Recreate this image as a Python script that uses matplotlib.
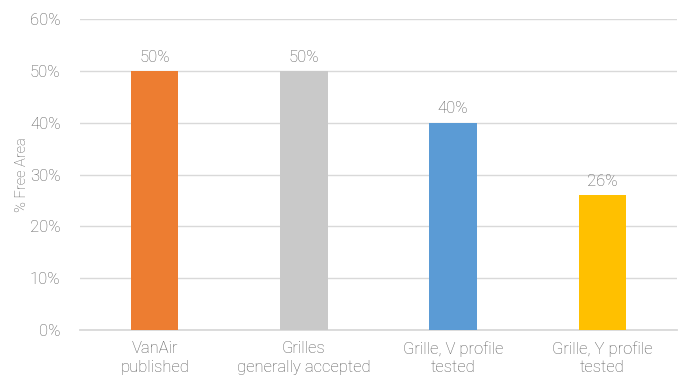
import matplotlib
matplotlib.use("Agg")
import matplotlib.pyplot as plt
from matplotlib.ticker import PercentFormatter

# free area share per grille type
categories = ["VanAir\npublished", "Grilles\ngenerally accepted",
              "Grille, V profile\ntested", "Grille, Y profile\ntested"]
free_area = [50, 50, 40, 26]
colors = ["#ED7D31", "#C9C9C9", "#5B9BD5", "#FFC000"]
yticks = [0, 10, 20, 30, 40, 50, 60]

plt.rcParams["font.family"] = ["Roboto", "DejaVu Sans"]
text_col = "#595959"

fig = plt.figure(figsize=(6.86, 3.84), dpi=100)
ax = fig.add_axes([0.1166, 0.1406, 0.8703, 0.8099])

x = range(len(categories))
bars = ax.bar(x, free_area, width=0.32, color=colors, zorder=3)
for b, v in zip(bars, free_area):
    ax.text(b.get_x() + b.get_width() / 2, v + 1.2, "%d%%" % v,
            ha="center", va="bottom", fontsize=12, color=text_col, fontweight="light")

ax.set_xlim(-0.5, len(categories) - 0.5)
ax.set_ylim(0, 60)
ax.set_yticks(yticks)
ax.yaxis.set_major_formatter(PercentFormatter(decimals=0))
ax.set_xticks(list(x))
ax.set_xticklabels(categories, fontsize=12, color=text_col, fontweight="light", linespacing=1.3)
for lbl in ax.get_yticklabels():
    lbl.set_fontsize(12)
    lbl.set_color(text_col)
    lbl.set_fontweight("light")
ax.set_ylabel("% Free Area", fontsize=10.5, color=text_col, fontweight="light", labelpad=1)

ax.grid(axis="y", color="#D9D9D9", linewidth=1.0, zorder=0)
for side in ["top", "right", "left"]:
    ax.spines[side].set_visible(False)
ax.spines["bottom"].set_color("#D9D9D9")
ax.spines["bottom"].set_linewidth(1.3)
ax.tick_params(length=0, pad=14)
ax.tick_params(axis="x", pad=8)

fig.savefig("out.png", dpi=100)
